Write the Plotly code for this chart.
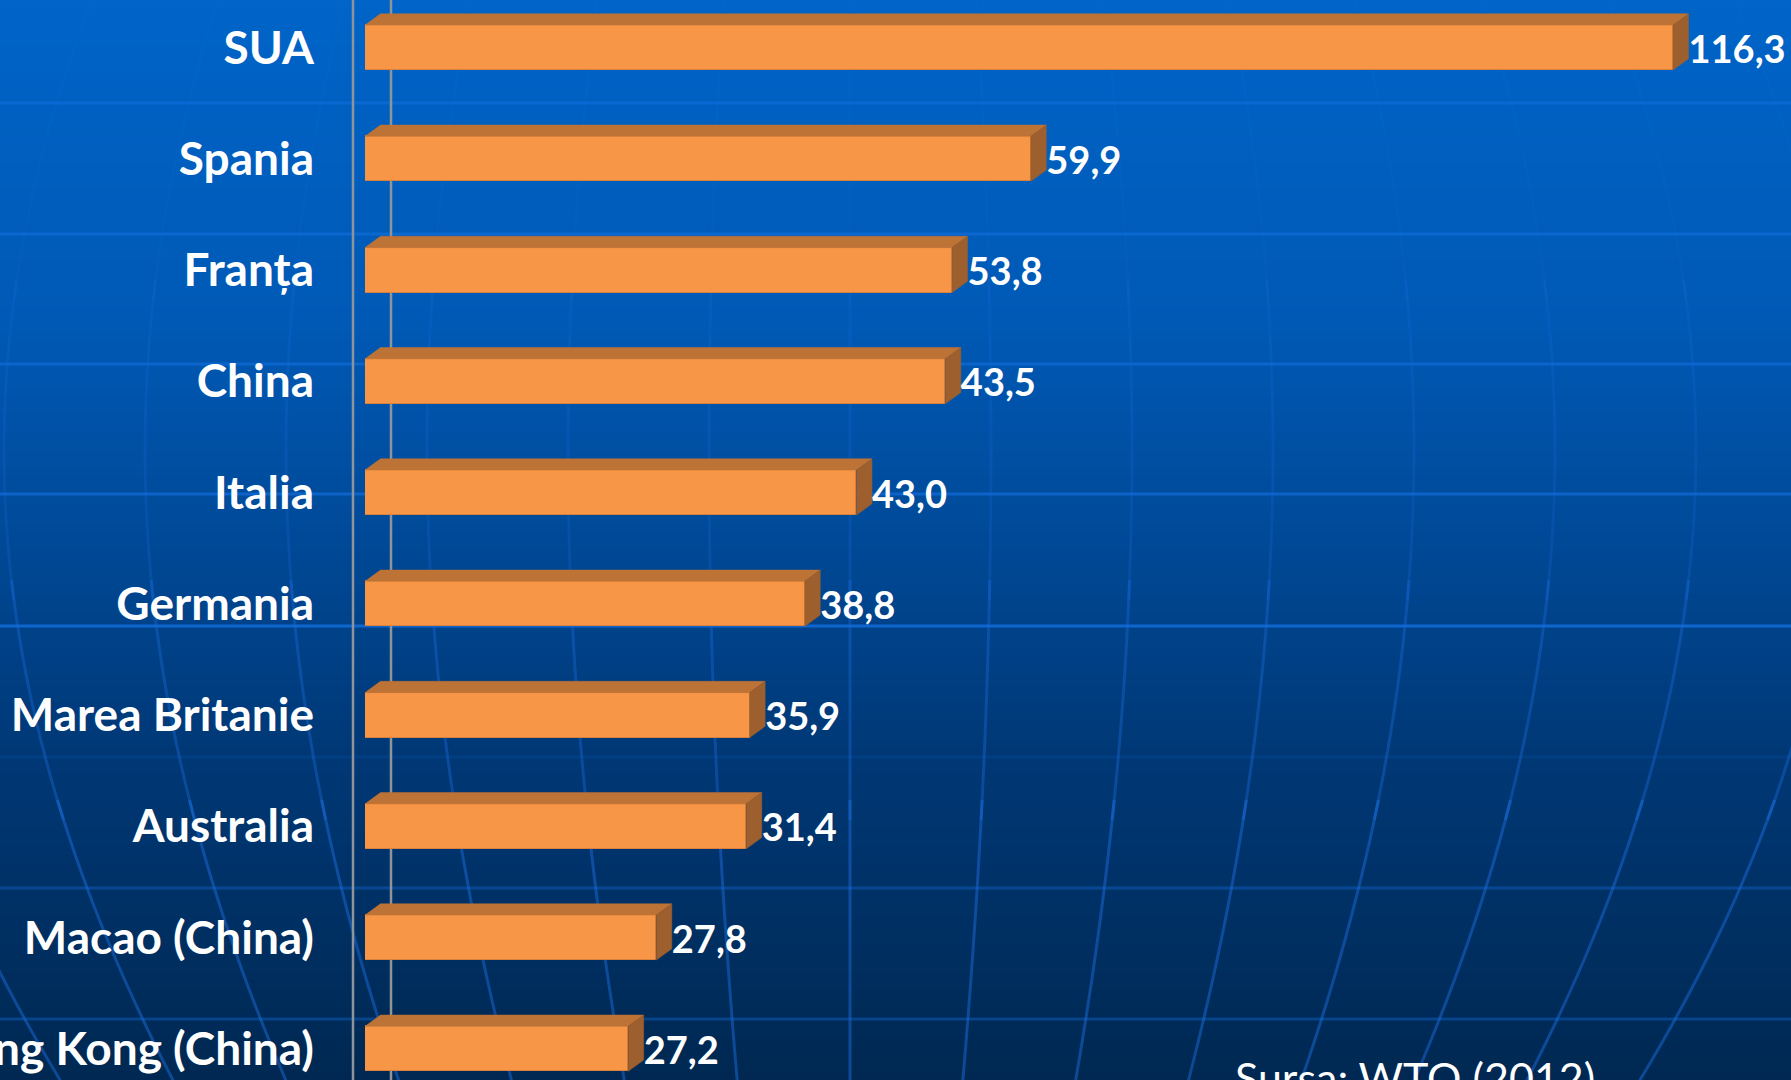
import numpy as np
import plotly.graph_objects as go

# ---------------- data ----------------
countries = ["SUA", "Spania", "Franța", "China", "Italia", "Germania",
             "Marea Britanie", "Australia", "Macao (China)", "Hong Kong (China)"]
value_labels = ["116,3", "59,9", "53,8", "43,5", "43,0", "38,8",
                "35,9", "31,4", "27,8", "27,2"]
# length of each drawn bar (same unit as SUA = 116.3)
bar_values = [116.3, 59.2, 52.2, 51.6, 43.7, 39.1, 34.2, 33.9, 25.9, 23.4]
source_text = "Sursa: WTO (2012)"

# ---------------- geometry / style ----------------
W, H = 1791, 1080
LEFT = 365            # pixel where bars start
PX_PER_UNIT = 11.247
PITCH = 111.25        # px between bar centres
FIRST_C = 47.6        # px of first bar centre
BAR_H = 45.0
DEPTH = 11.3
DX_PX = 15.5

FRONT = "#F79646"
TOP = "#BE7336"
SIDE = "#9C5F2D"
WHITE = "#FFFFFF"

idx = np.arange(len(countries))
x_max = (W - LEFT) / PX_PER_UNIT
y_lo = -FIRST_C / PITCH
y_hi = (H - FIRST_C) / PITCH
half = BAR_H / 2 / PITCH
dy = DEPTH / PITCH
dx = DX_PX / PX_PER_UNIT

fig = go.Figure()

# front faces
fig.add_trace(go.Bar(
    x=bar_values, y=idx, orientation="h", base=0, width=2 * half,
    marker=dict(color=FRONT, line=dict(color="#D9803C", width=1)),
    hoverinfo="skip", showlegend=False))

# top and side faces (3D look) derived from the bar values
tx, ty, sx, sy = [], [], [], []
for i, v in enumerate(bar_values):
    yt = i - half
    yb = i + half
    tx += [0, v, v + dx, dx, 0, None]
    ty += [yt, yt, yt - dy, yt - dy, yt, None]
    sx += [v, v + dx, v + dx, v, v, None]
    sy += [yt, yt - dy, yb - dy, yb, yt, None]
fig.add_trace(go.Scatter(x=tx, y=ty, mode="lines", fill="toself",
                         fillcolor=TOP, line=dict(color=TOP, width=0.5),
                         hoverinfo="skip", showlegend=False))
fig.add_trace(go.Scatter(x=sx, y=sy, mode="lines", fill="toself",
                         fillcolor=SIDE, line=dict(color=SIDE, width=0.5),
                         hoverinfo="skip", showlegend=False))

# value labels
fig.add_trace(go.Scatter(
    x=[v + dx for v in bar_values], y=idx + 0.05, mode="text", text=value_labels,
    textposition="middle right",
    textfont=dict(family="Lato", size=38, color=WHITE, weight="bold"),
    hoverinfo="skip", showlegend=False, cliponaxis=False))

# ---------------- background decoration ----------------
# paper coordinates refer to the plot area (margin l=LEFT, others 0)


def px(p):
    return (p - LEFT) / (W - LEFT)


def py(p):
    return 1 - p / H


shapes = []
stops = [(0.0, (0, 100, 200)), (0.3, (0, 89, 181)), (0.5, (0, 73, 151)),
         (0.7, (0, 56, 117)), (1.0, (0, 40, 82))]


def grad(t):
    for (t0, c0), (t1, c1) in zip(stops[:-1], stops[1:]):
        if t <= t1:
            f = (t - t0) / (t1 - t0)
            return tuple(int(round(a + (b - a) * f)) for a, b in zip(c0, c1))
    return stops[-1][1]


n_strips = 120
for k in range(n_strips):
    y0 = k / n_strips
    y1 = (k + 1) / n_strips
    c = grad(1 - (y0 + y1) / 2)
    shapes.append(dict(type="rect", xref="paper", yref="paper", x0=px(0), x1=px(W),
                       y0=y0 - 0.0005, y1=y1 + 0.0005, layer="below",
                       line=dict(width=0), fillcolor="rgb(%d,%d,%d)" % c))

# latitude lines
for yy, a in [(103, 0.45), (234, 0.5), (364, 0.55), (494, 0.6), (626, 0.75),
              (757, 0.12), (888, 0.35), (1019, 0.35)]:
    shapes.append(dict(type="line", xref="paper", yref="paper", x0=px(0), x1=px(W),
                       y0=py(yy), y1=py(yy), layer="below",
                       line=dict(color="rgba(20,115,230,%.2f)" % a, width=3)))

# meridians (faint at the top, clearer at the bottom)
cx = 850
ys = np.arange(0, H + 21, 20)
seg_bounds = [(0, 300, 0.12), (280, 600, 0.25), (580, 820, 0.4), (800, H + 20, 0.5)]
for k in range(-7, 8):
    s = 141 * k
    for ya, yb, a in seg_bounds:
        yy = ys[(ys >= ya) & (ys <= yb)]
        pts = ["%s%.5f,%.5f" % ("M" if j == 0 else "L",
                                 px(cx + s * np.cos((y - 450) / 980)), py(y))
               for j, y in enumerate(yy)]
        shapes.append(dict(type="path", xref="paper", yref="paper", path=" ".join(pts),
                           layer="below",
                           line=dict(color="rgba(25,105,215,%.2f)" % a, width=3)))

# wall edge lines
for xx in (353, 391):
    shapes.append(dict(type="line", xref="paper", yref="paper", x0=px(xx), x1=px(xx),
                       y0=0, y1=1, layer="below",
                       line=dict(color="#8E9499", width=2.5)))

fig.update_layout(
    width=W, height=H,
    margin=dict(l=LEFT, r=0, t=0, b=0, autoexpand=False),
    paper_bgcolor="rgb(0,70,145)",
    plot_bgcolor="rgba(0,0,0,0)",
    shapes=shapes,
    showlegend=False,
    bargap=0,
    xaxis=dict(range=[0, x_max], visible=False, showgrid=False, zeroline=False,
               fixedrange=True),
    yaxis=dict(range=[y_hi, y_lo], tickmode="array", tickvals=idx, ticktext=countries,
               showgrid=False, zeroline=False, showline=False, ticks="",
               tickfont=dict(family="Lato", size=46, color=WHITE, weight="bold"),
               ticklabelstandoff=50, automargin=False, fixedrange=True),
    annotations=[dict(text=source_text, xref="paper", yref="paper",
                      x=px(1233), y=py(1050), xanchor="left", yanchor="top",
                      showarrow=False,
                      font=dict(family="Lato", size=43, color=WHITE))],
)

fig.write_html("out.html", config={"displayModeBar": False},
               post_script="document.body.style.margin='0px';"
                           "document.body.style.overflow='hidden';")
